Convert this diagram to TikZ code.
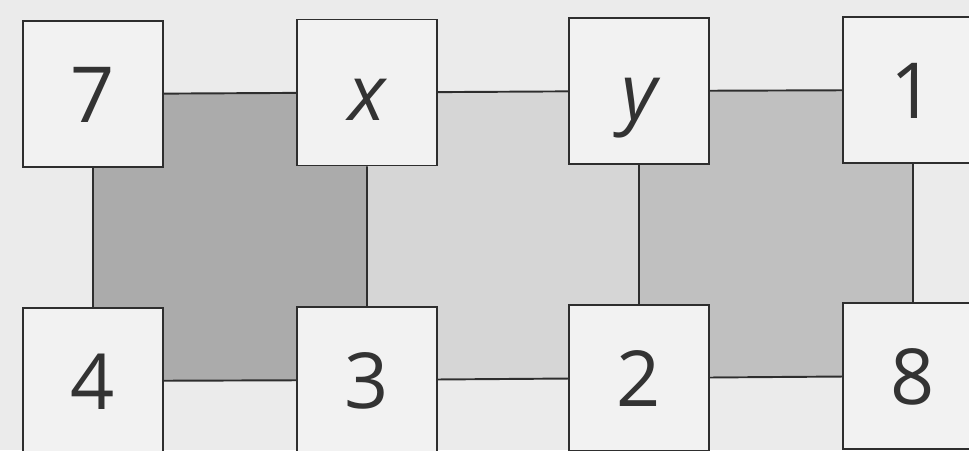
\documentclass[tikz,border=0pt]{standalone}
\usepackage{fontspec}
\setmainfont{Open Sans}
\usetikzlibrary{backgrounds}
\definecolor{paper}{HTML}{EBEBEB}
\definecolor{boxfill}{HTML}{F2F2F2}
\definecolor{inkgray}{HTML}{2E2E2E}
\definecolor{textgray}{HTML}{333333}
\definecolor{shadeA}{HTML}{ABABAB}
\definecolor{shadeB}{HTML}{D6D6D6}
\definecolor{shadeC}{HTML}{C0C0C0}
\tikzset{
  sq/.style={draw=inkgray,fill=boxfill,line width=1.1pt,minimum width=2.8cm,
    minimum height=2.92cm,inner sep=0pt,text=textgray,text height=1.14cm,
    text depth=0pt,font=\fontsize{44}{53}\selectfont},
  sqedge/.style={inkgray,line width=1.1pt},
}
\begin{document}
\begin{tikzpicture}[x=0.02cm,y=-0.02cm]
  \clip (0,0) rectangle (969,450);
  \node[sq] (s7) at (93,94) {7};
  \node[sq] (sx) at (367,92.5) {\itshape x};
  \node[sq] (sy) at (639,91) {\itshape y};
  \node[sq] (s1) at (913,90) {1};
  \node[sq] (s4) at (93,381) {4};
  \node[sq] (s3) at (367,380) {3};
  \node[sq] (s2) at (639,378) {2};
  \node[sq] (s8) at (913,376) {8};
  \begin{scope}[on background layer]
    \fill[paper] (0,0) rectangle (969,450);
    \fill[shadeA] (s7.center) rectangle (s3.center);
    \fill[shadeB] (sx.center) rectangle (s2.center);
    \fill[shadeC] (sy.center) rectangle (s8.center);
    \draw[sqedge] (s7)--(sx) (sx)--(sy) (sy)--(s1)
      (s4)--(s3) (s3)--(s2) (s2)--(s8)
      (s7)--(s4) (sx)--(s3) (sy)--(s2) (s1)--(s8);
  \end{scope}
\end{tikzpicture}
\end{document}
